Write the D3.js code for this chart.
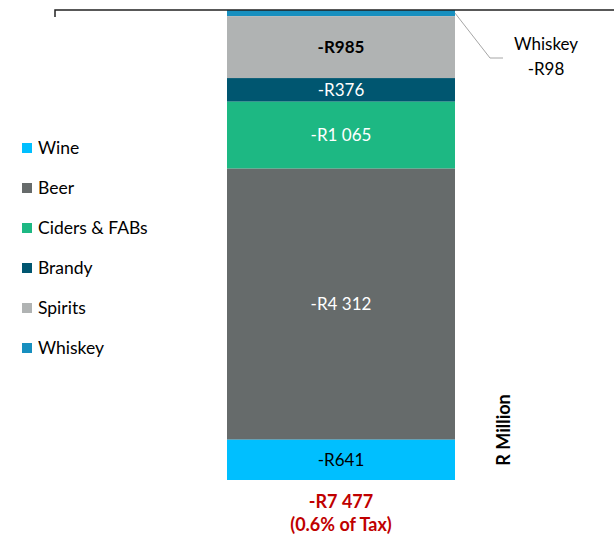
<!DOCTYPE html>
<html>
<head>
<meta charset="utf-8">
<script src="https://cdn.jsdelivr.net/npm/d3@7"></script>
<style>
  body { margin: 0; background: #fff; }
  svg { font-family: Lato, "Open Sans", sans-serif; }
</style>
</head>
<body>
<svg id="chart" width="614" height="535"></svg>
<script>
// stacked from the axis downward
const categories = ["Whiskey", "Spirits", "Brandy", "Ciders & FABs", "Beer", "Wine"];
const values = [-98, -985, -376, -1065, -4312, -641];
const labels = [null, "-R985", "-R376", "-R1 065", "-R4 312", "-R641"];
const colors = ["#178fbf", "#b0b3b3", "#005670", "#1db883", "#666b6b", "#00bfff"];
const legendOrder = ["Wine", "Beer", "Ciders & FABs", "Brandy", "Spirits", "Whiskey"];
const total = "-R7 477";
const totalNote = "(0.6% of Tax)";

const svg = d3.select("#chart");

let y = d3.scaleLinear()
    .domain([0, d3.sum(values)])
    .range([10, 480]);

// cumulative stack
let acc = 0;
let segs = values.map((v, i) => {
  let s = {name: categories[i], y0: acc, y1: acc + v, label: labels[i], color: colors[i]};
  acc += v;
  return s;
});

let bx = 227, bw = 228;

svg.selectAll("rect.seg")
    .data(segs)
    .enter().append("rect")
    .attr("class", "seg")
    .attr("x", bx)
    .attr("width", bw)
    .attr("y", d => y(d.y0))
    .attr("height", d => y(d.y1) - y(d.y0))
    .attr("fill", d => d.color);

svg.selectAll("text.seg")
    .data(segs.filter(d => d.label))
    .enter().append("text")
    .attr("class", "seg")
    .attr("x", bx + bw / 2)
    .attr("y", d => (y(d.y0) + y(d.y1)) / 2)
    .attr("dy", "0.35em")
    .attr("text-anchor", "middle")
    .attr("font-size", 17)
    .attr("font-weight", d => d.name === "Spirits" ? "bold" : "normal")
    .attr("fill", d => (d.name === "Spirits" || d.name === "Wine") ? "#000" : "#fff")
    .text(d => d.label);

// axis line at zero
svg.append("path")
    .attr("d", `M55,17V${y(0)}H614`)
    .attr("fill", "none")
    .attr("stroke", "#222")
    .attr("stroke-width", 1.5);

// whiskey callout
let wy = (y(segs[0].y0) + y(segs[0].y1)) / 2;
svg.append("path")
    .attr("d", `M${bx + bw},${wy}L490,58H503`)
    .attr("fill", "none")
    .attr("stroke", "#a6a6a6")
    .attr("stroke-width", 1);
svg.append("text")
    .attr("x", 546).attr("y", 50)
    .attr("text-anchor", "middle")
    .attr("font-size", 17)
    .text(categories[0]);
svg.append("text")
    .attr("x", 546).attr("y", 75)
    .attr("text-anchor", "middle")
    .attr("font-size", 17)
    .text("-R" + Math.abs(values[0]));

// legend
let lg = svg.append("g").selectAll("g")
    .data(legendOrder)
    .enter().append("g")
    .attr("transform", (d, i) => `translate(22,${148 + i * 40})`);
lg.append("rect")
    .attr("x", 0).attr("y", -5)
    .attr("width", 10).attr("height", 10)
    .attr("fill", d => colors[categories.indexOf(d)]);
lg.append("text")
    .attr("x", 16)
    .attr("dy", "0.35em")
    .attr("font-size", 17.5)
    .text(d => d);

// total
svg.append("text")
    .attr("x", bx + bw / 2).attr("y", 508)
    .attr("text-anchor", "middle")
    .attr("font-size", 18).attr("font-weight", "bold")
    .attr("fill", "#c00000")
    .text(total);
svg.append("text")
    .attr("x", bx + bw / 2).attr("y", 531)
    .attr("text-anchor", "middle")
    .attr("font-size", 18).attr("font-weight", "bold")
    .attr("fill", "#c00000")
    .text(totalNote);

// unit label
svg.append("text")
    .attr("transform", "translate(510,430) rotate(-90)")
    .attr("text-anchor", "middle")
    .attr("font-size", 18).attr("font-weight", "bold")
    .text("R Million");
</script>
</body>
</html>
